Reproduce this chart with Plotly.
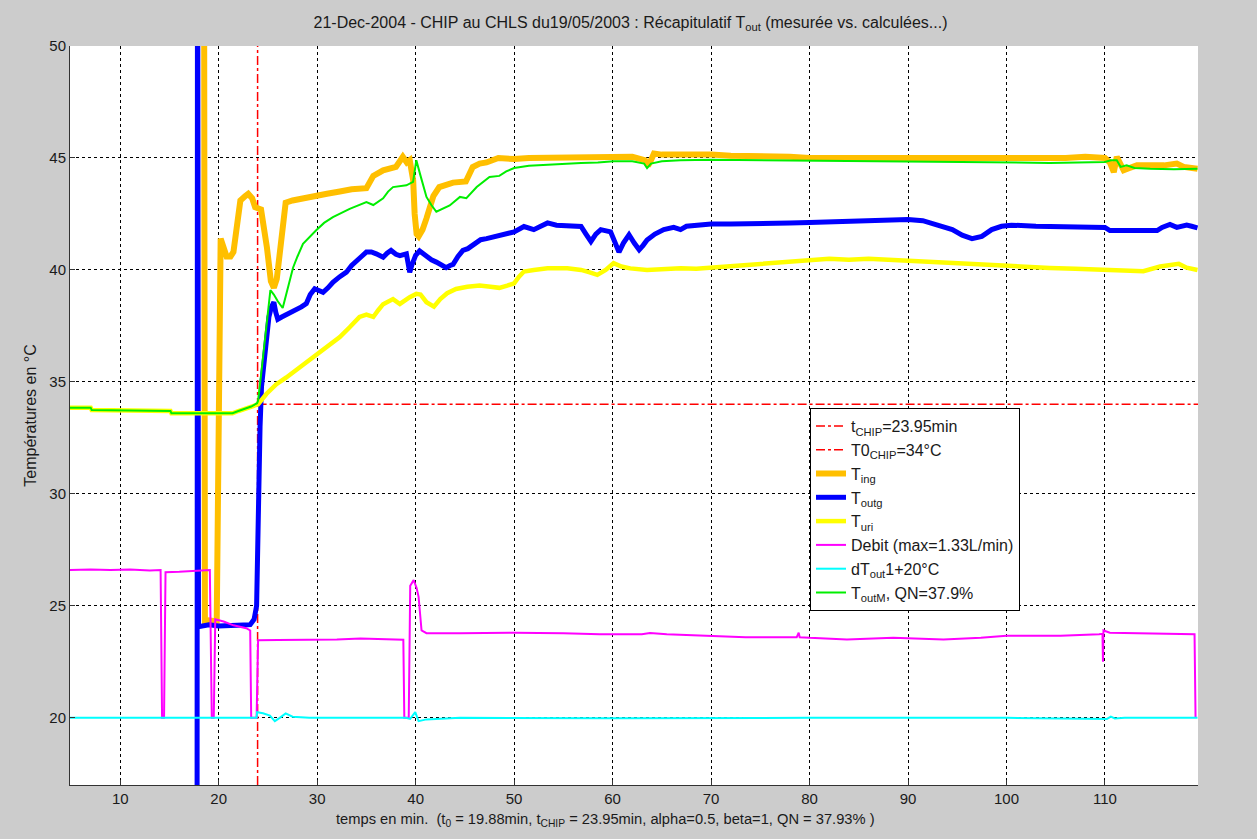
import plotly.graph_objects as go

# ---------------- data ----------------
T_CHIP = 23.95
T0_CHIP = 34.0
X_MIN, X_MAX = 4.9, 119.45
Y_MIN, Y_MAX = 17, 50

ting_t = [4.9, 18.5, 18.6, 19.0, 19.8, 20.2, 20.8, 21.2, 21.5, 21.9, 22.2, 22.7, 23.0, 23.4, 23.7, 24.3, 24.6,
          24.9, 25.3, 25.6, 25.9, 26.2, 26.5, 26.8, 27.5, 28.5, 29.9, 31.0, 32.3, 33.5, 35.0, 35.4, 35.7, 36.7,
          38.0, 38.7, 39.1, 39.4, 39.6, 39.75, 39.9, 40.1, 40.3, 40.7, 41.1, 41.5, 41.8, 42.4, 43.0, 43.8, 45.1,
          45.5, 45.8, 46.5, 47.2, 48.4, 50.0, 51.5, 53.4, 55.0, 57.0, 60.1, 62.0, 63.3, 63.6, 63.9, 64.2, 65.0,
          66.9, 68, 70, 72, 75, 78, 80, 83, 86, 90, 93, 96, 100, 103, 106, 108, 110.0, 110.5, 110.9, 111.2,
          111.5, 111.9, 112.5, 113.25, 116.0, 117.3, 118.0, 119.4]
ting_v = [60, 60, 24.3, 24.35, 24.3, 41.4, 40.6, 40.6, 40.8, 42.3, 43.1, 43.3, 43.4, 43.2, 42.8, 42.7, 42.0,
          41.0, 39.5, 39.2, 39.6, 40.7, 42.2, 43.0, 43.1, 43.2, 43.3, 43.4, 43.5, 43.6, 43.65, 44.0, 44.2, 44.45,
          44.6, 45.05, 44.8, 44.9, 44.5, 44.0, 42.5, 41.6, 41.5, 41.8, 42.3, 43.0, 43.3, 43.7, 43.8, 43.9, 43.95,
          44.3, 44.6, 44.75, 44.8, 45.0, 44.95, 45.0, 45.0, 45.05, 45.0, 45.0, 45.05, 44.9, 44.65, 44.9, 45.2, 45.15,
          45.15, 45.2, 45.15, 45.1, 45.1, 45.05, 45.0, 45.0, 45.0, 44.95, 45.0, 45.0, 44.95, 45.0, 45.0, 45.05, 45.0,
          44.8, 44.37, 45.05, 44.8, 44.45, 44.55, 44.67, 44.67, 44.75, 44.6, 44.52]

toutg_t = [4.9, 17.8, 17.85, 17.95, 18.1, 19.0, 20.0, 20.8, 21.5, 22.5, 23.2, 23.6, 23.85, 24.0, 24.2, 24.35,
           24.6, 24.84, 25.1, 25.35, 25.6, 25.8, 26.0, 26.4, 26.87, 27.4, 27.9, 28.4, 28.9, 29.3, 29.75, 30.2,
           30.6, 31.1, 31.6, 32.3, 32.97, 33.5, 33.98, 34.5, 35.0, 35.5, 36.0, 36.7, 37.1, 37.5, 38.0, 38.4,
           39.06, 39.25, 39.4, 39.6, 39.74, 40.0, 40.4, 40.7, 41.1, 41.6, 42.1, 42.6, 43.1, 43.5, 43.8, 44.3,
           44.8, 45.3, 45.8, 46.6, 47.2, 48.4, 49.2, 50.0, 51.0, 52.0, 52.7, 53.4, 54.3, 55.4, 56.8, 57.3, 57.8,
           58.3, 58.8, 59.8, 60.2, 60.65, 61.1, 61.67, 62.2, 62.7, 63.1, 63.5, 64.3, 65.2, 66.2, 66.9, 67.5,
           68.5, 70, 72, 75, 78, 80, 82, 85, 88, 90, 91.5, 93, 94.5, 95.5, 96.5, 97.5, 98.5, 99.5, 100.5, 103,
           105, 108, 110, 110.5, 113, 115.3, 115.8, 116.6, 117.3, 118.3, 118.8, 119.4]
toutg_v = [10, 10, 60, 24.1, 24.08, 24.15, 24.1, 24.13, 24.15, 24.15, 24.16, 24.4, 25.0, 29.2, 33.0, 34.8,
           36.0, 37.0, 37.9, 38.34, 38.56, 38.1, 37.8, 37.9, 38.0, 38.1, 38.26, 38.35, 38.5, 38.9, 39.16, 39.05,
           39.0, 39.2, 39.45, 39.7, 39.9, 40.2, 40.42, 40.6, 40.8, 40.8, 40.72, 40.57, 40.75, 40.87, 40.7, 40.64,
           40.72, 40.2, 39.9, 40.2, 40.42, 40.65, 40.85, 40.75, 40.57, 40.45, 40.35, 40.2, 40.1, 40.2, 40.25, 40.6,
           40.87, 40.95, 41.1, 41.35, 41.4, 41.54, 41.6, 41.7, 41.94, 41.8, 41.95, 42.1, 42.0, 41.97, 41.94, 41.6,
           41.27, 41.6, 41.8, 41.7, 41.3, 40.8, 41.2, 41.57, 41.2, 40.9, 41.1, 41.34, 41.6, 41.8, 41.9, 41.8, 41.95,
           42.0, 42.05, 42.05, 42.1, 42.1, 42.12, 42.15, 42.2, 42.25, 42.25, 42.2, 42.0, 41.8, 41.55, 41.4, 41.5,
           41.8, 41.95, 42.0, 41.95, 41.92, 41.9, 41.9, 41.76, 41.76, 41.76, 41.9, 42.03, 41.9, 42.0, 41.95, 41.88]

turi_t = [4.9, 7.0, 7.1, 15.1, 15.2, 21.4, 22.0, 22.6, 23.3, 24.0, 24.84, 25.86, 26.87, 28.2, 29.6, 30.9, 32.3,
          33.3, 34.3, 35.0, 35.7, 36.2, 36.7, 37.7, 38.4, 39.4, 40.07, 40.5, 41.1, 41.86, 42.5, 43.2, 44.1, 45.25,
          46.5, 47.6, 48.5, 49.3, 50.0, 50.5, 51.0, 52.0, 53.4, 55.4, 56.8, 57.6, 58.45, 59.3, 60.1, 60.9, 61.8,
          63.5, 65.0, 66.9, 68.5, 70, 72, 74, 76, 78, 80, 82, 84, 86, 88, 90, 92, 94, 96, 98, 100, 102, 104.4,
          107, 110, 112, 113.9, 115.6, 117.5, 118.3, 119.4]
turi_v = [33.85, 33.85, 33.75, 33.7, 33.6, 33.6, 33.7, 33.8, 33.9, 34.0, 34.46, 34.9, 35.2, 35.65, 36.1, 36.55,
          37.0, 37.44, 37.9, 38.0, 37.9, 38.2, 38.47, 38.7, 38.48, 38.78, 38.93, 38.9, 38.56, 38.36, 38.7, 38.96,
          39.15, 39.25, 39.3, 39.25, 39.2, 39.3, 39.4, 39.7, 39.93, 40.0, 40.07, 40.07, 40.0, 39.9, 39.78, 40.0,
          40.3, 40.15, 40.07, 40.0, 40.05, 40.07, 40.05, 40.1, 40.15, 40.2, 40.3, 40.35, 40.45, 40.5, 40.45, 40.5,
          40.45, 40.4, 40.35, 40.3, 40.25, 40.2, 40.15, 40.1, 40.09, 40.05, 40.0, 40.0, 39.94, 40.15, 40.27, 40.1,
          40.0]

debit_t = [4.9, 7.0, 9.0, 11.0, 13.0, 14.1, 14.25, 14.45, 14.5, 14.6, 16.0, 17.5, 19.1, 19.3, 19.5, 19.65, 20.5,
           21.5, 22.3, 22.8, 23.2, 23.3, 23.85, 24.0, 26.0, 29.6, 32.0, 34.4, 37.0, 38.75, 38.85, 39.3, 39.45,
           39.8, 40.1, 40.3, 40.6, 41.1, 44.5, 50, 55, 58.7, 62.97, 63.8, 65.5, 69.7, 73.5, 78.7, 78.9, 79.0, 80,
           83.8, 88.5, 93.6, 97.4, 100, 105.5, 109.4, 109.75, 109.8, 109.85, 110.5, 111.9, 115, 119.1, 119.2]
debit_v = [26.6, 26.62, 26.6, 26.62, 26.58, 26.6, 20.0, 20.0, 22.2, 26.5, 26.52, 26.55, 26.6, 20.0, 20.0, 24.4,
           24.3, 24.13, 24.05, 24.0, 23.9, 20.0, 20.0, 23.46, 23.48, 23.49, 23.5, 23.54, 23.5, 23.49, 20.0, 20.0,
           25.9, 26.15, 25.8, 25.4, 23.9, 23.78, 23.78, 23.8, 23.78, 23.73, 23.73, 23.79, 23.73, 23.67, 23.6, 23.6,
           23.8, 23.6, 23.57, 23.5, 23.58, 23.5, 23.58, 23.67, 23.67, 23.73, 23.75, 22.5, 23.9, 23.8, 23.79, 23.75,
           23.73, 20.03]

dtout_t = [4.9, 23.85, 23.9, 24.5, 25.2, 25.7, 26.2, 26.8, 27.5, 29.2, 35, 39.0, 39.45, 39.96, 40.3, 41.1, 44.5,
           60, 80, 100, 110.2, 110.6, 111, 112, 119.4]
dtout_v = [20.0, 20.0, 20.25, 20.2, 20.1, 19.85, 20.0, 20.2, 20.05, 20.0, 20.0, 20.0, 19.95, 20.25, 19.85, 19.93,
           20.0, 19.98, 20.0, 20.0, 19.95, 20.05, 19.97, 20.0, 20.0]

toutm_t = [4.9, 7.0, 7.1, 15.1, 15.2, 21.4, 22.0, 22.6, 23.3, 23.9, 24.0, 24.3, 24.6, 24.9, 25.25, 25.6, 26.0,
           26.5, 27.0, 27.55, 28.0, 28.56, 29.9, 30.7, 31.6, 33.3, 35.0, 35.7, 36.7, 37.2, 37.7, 39.06, 39.74,
           40.07, 40.5, 41.1, 41.6, 42.1, 43.46, 44.5, 45.15, 46.2, 47.5, 48.5, 49.2, 50.0, 51.5, 53.4, 55.0, 56.8,
           58.5, 60.1, 62.0, 63.2, 63.5, 63.9, 65.0, 66.9, 70, 75, 80, 85, 90, 95, 100, 104.4, 110, 110.6, 111.2,
           111.6, 112.2, 113, 114.6, 117, 119.4]
toutm_v = [33.85, 33.85, 33.75, 33.7, 33.6, 33.6, 33.7, 33.8, 33.9, 34.05, 34.16, 35.3, 36.6, 37.9, 39.1, 38.9,
           38.6, 38.3, 39.1, 40.1, 40.6, 41.17, 41.77, 42.1, 42.36, 42.73, 43.03, 42.9, 43.2, 43.5, 43.7, 43.78,
           43.93, 44.9, 44.2, 43.26, 42.9, 42.6, 42.88, 43.26, 43.2, 43.7, 44.15, 44.2, 44.4, 44.55, 44.65, 44.7,
           44.75, 44.78, 44.8, 44.85, 44.85, 44.75, 44.55, 44.75, 44.85, 44.9, 44.92, 44.9, 44.88, 44.87, 44.85,
           44.83, 44.8, 44.78, 44.82, 44.9, 44.9, 44.6, 44.67, 44.55, 44.52, 44.5, 44.52]

x_ticks = [10, 20, 30, 40, 50, 60, 70, 80, 90, 100, 110]
y_ticks = [20, 25, 30, 35, 40, 45, 50]

# ---------------- figure ----------------
fig = go.Figure()
fig.add_trace(go.Scatter(x=[T_CHIP, T_CHIP], y=[Y_MIN, Y_MAX], mode="lines",
                         line=dict(color="#FF0000", width=1.5, dash="dashdot"),
                         name="t<sub>CHIP</sub>=23.95min"))
fig.add_trace(go.Scatter(x=[T_CHIP, X_MAX], y=[T0_CHIP, T0_CHIP], mode="lines",
                         line=dict(color="#FF0000", width=1.5, dash="dashdot"),
                         name="T0<sub>CHIP</sub>=34°C"))
fig.add_trace(go.Scatter(x=ting_t, y=ting_v, mode="lines", line=dict(color="#FFBF00", width=6),
                         name="T<sub>ing</sub>"))
fig.add_trace(go.Scatter(x=toutg_t, y=toutg_v, mode="lines", line=dict(color="#0000FF", width=5),
                         name="T<sub>outg</sub>"))
fig.add_trace(go.Scatter(x=turi_t, y=turi_v, mode="lines", line=dict(color="#FFFF00", width=4.5),
                         name="T<sub>uri</sub>"))
fig.add_trace(go.Scatter(x=debit_t, y=debit_v, mode="lines", line=dict(color="#FF00FF", width=2),
                         name="Debit (max=1.33L/min)"))
fig.add_trace(go.Scatter(x=dtout_t, y=dtout_v, mode="lines", line=dict(color="#00FFFF", width=2),
                         name="dT<sub>out</sub>1+20°C"))
fig.add_trace(go.Scatter(x=toutm_t, y=toutm_v, mode="lines", line=dict(color="#00EE00", width=2),
                         name="T<sub>outM</sub>, QN=37.9%"))

REG = "Liberation Sans, Arial, sans-serif"
TXT = "#1a1a1a"

fig.update_layout(
    width=1257, height=839,
    paper_bgcolor="#CCCCCC", plot_bgcolor="#FFFFFF",
    margin=dict(l=70, r=59, t=46, b=54),
    title=dict(text="21-Dec-2004 - CHIP au CHLS du19/05/2003 : Récapitulatif T<sub>out</sub> (mesurée vs. calculées...)",
               x=0.5016, xanchor="center", y=1 - 22 / 839, yanchor="middle", yref="container",
               font=dict(family=REG, size=16, color=TXT)),
    font=dict(family=REG, size=15, color=TXT),
    showlegend=True,
    legend=dict(x=(810 - 70) / 1128, y=1 - (408 - 46) / 739, xanchor="left", yanchor="top",
                bgcolor="#FFFFFF", bordercolor="#000000", borderwidth=1,
                font=dict(family=REG, size=16, color=TXT), tracegroupgap=0),
    annotations=[dict(
        text="temps en min.  (t<sub>0</sub> = 19.88min, t<sub>CHIP</sub> = 23.95min, alpha=0.5, beta=1, QN = 37.93% )",
        xref="paper", yref="paper", x=(605.5 - 70) / 1128, y=-(820 - 785) / 739,
        xanchor="center", yanchor="middle", showarrow=False,
        font=dict(family=REG, size=14.7, color=TXT))],
)
fig.update_xaxes(range=[X_MIN, X_MAX], tickvals=x_ticks, ticks="inside", ticklen=5, tickcolor="#333",
                 showline=True, linecolor="#333", linewidth=1, mirror=False,
                 showgrid=True, gridcolor="#000000", griddash="3px,3px", gridwidth=1, zeroline=False,
                 tickfont=dict(family=REG, size=15, color=TXT))
fig.update_yaxes(range=[Y_MIN, Y_MAX], tickvals=y_ticks, ticks="inside", ticklen=5, tickcolor="#333",
                 showline=True, linecolor="#333", linewidth=1, mirror=False,
                 showgrid=True, gridcolor="#000000", griddash="3px,3px", gridwidth=1, zeroline=False,
                 tickfont=dict(family=REG, size=15, color=TXT),
                 title=dict(text="Températures en °C", font=dict(family=REG, size=16, color=TXT), standoff=8))

fig.write_html("out.html", config={"displayModeBar": False},
               post_script="document.body.style.margin='0';document.body.style.padding='0';")
